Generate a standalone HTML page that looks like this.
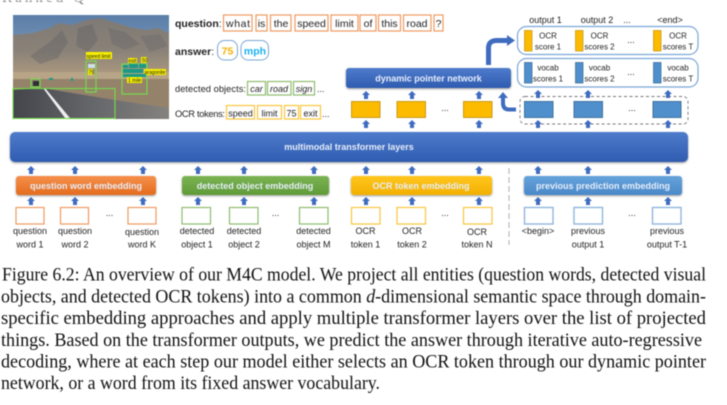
<!DOCTYPE html>
<html><head><meta charset="utf-8">
<style>
html,body{margin:0;padding:0;background:#fff;width:727px;height:405px;overflow:hidden}
svg{display:block;filter:blur(.4px)}
text{font-family:"Liberation Sans",sans-serif;fill:#222}
.t{font-size:9px;text-anchor:middle}
.w{font-size:9px;font-weight:bold;fill:#e6eefa;text-anchor:middle}
.q{font-size:10.5px;text-anchor:middle}
.i{font-size:9px;text-anchor:middle;font-style:italic}
.c{font-family:"Liberation Serif",serif;font-size:18.5px;fill:#111}
.qb{fill:#fff;stroke:#f0995f;stroke-width:1.2}
.ob{fill:#fff;stroke:#8fbc6e;stroke-width:1.2}
.yb{fill:#fff;stroke:#f8c63c;stroke-width:1.2}
.bb{fill:#fff;stroke:#8fb6dc;stroke-width:1.4}
</style></head><body>
<svg width="727" height="405" viewBox="0 0 727 405" xmlns="http://www.w3.org/2000/svg">
<defs>
<polygon id="a" points="0,4 4,0 8,4 6,4 6,8 2,8 2,4" fill="#3f6cbf"/>
<linearGradient id="gb" x1="0" y1="0" x2="0" y2="1"><stop offset="0" stop-color="#4f7bcc"/><stop offset="1" stop-color="#2f5cb0"/></linearGradient>
<linearGradient id="go" x1="0" y1="0" x2="0" y2="1"><stop offset="0" stop-color="#f5904c"/><stop offset="1" stop-color="#e46c1e"/></linearGradient>
<linearGradient id="gg" x1="0" y1="0" x2="0" y2="1"><stop offset="0" stop-color="#7cb354"/><stop offset="1" stop-color="#5f9b38"/></linearGradient>
<linearGradient id="gy" x1="0" y1="0" x2="0" y2="1"><stop offset="0" stop-color="#ffc61e"/><stop offset="1" stop-color="#f3b000"/></linearGradient>
<linearGradient id="gl" x1="0" y1="0" x2="0" y2="1"><stop offset="0" stop-color="#66a3dc"/><stop offset="1" stop-color="#4a88c8"/></linearGradient>
<linearGradient id="sky" x1="0" y1="0" x2="0" y2="1"><stop offset="0" stop-color="#5a7ea8"/><stop offset="1" stop-color="#b4c2d0"/></linearGradient>
<linearGradient id="mt" x1="0" y1="0" x2="0" y2="1"><stop offset="0" stop-color="#7f7a76"/><stop offset=".55" stop-color="#8a8278"/><stop offset="1" stop-color="#b09c80"/></linearGradient>
<linearGradient id="rd" x1="0" y1="0" x2="1" y2="0"><stop offset="0" stop-color="#44454b"/><stop offset=".5" stop-color="#65666a"/><stop offset="1" stop-color="#85827e"/></linearGradient>
<filter id="sh" x="-5%" y="-20%" width="110%" height="150%"><feDropShadow dx="0" dy="1" stdDeviation="1" flood-color="#000" flood-opacity=".4"/></filter>
</defs>

<text x="2" y="2" font-size="15" style="fill:#888;font-family:'Liberation Serif',serif" textLength="82">Ranked Q</text>

<!-- photo -->
<rect x="13" y="15" width="156" height="104" fill="url(#sky)"/>
<polygon points="13,35 33,33 50,28 58,23 72,25 87,20 100,18 113,22 123,25 133,28 147,30 157,28 169,33 169,78 13,78" fill="url(#mt)"/>
<polygon points="30,56 50,42 62,30 68,42 58,58 40,64" fill="#5c5c62" opacity=".35"/>
<polygon points="78,28 92,24 98,40 88,52 76,46" fill="#5c5c62" opacity=".35"/>
<polygon points="108,28 125,32 140,44 125,50 112,44" fill="#5c5c62" opacity=".3"/>
<polygon points="140,36 160,34 168,46 150,52" fill="#5f6068" opacity=".3"/>
<rect x="13" y="72" width="156" height="8" fill="#b8a486"/>
<rect x="13" y="79" width="156" height="40" fill="#94836a"/>
<polygon points="13,90 42,88 115,100 169,108 169,119 13,119" fill="url(#rd)"/>
<polygon points="43,88 45,88 70,118 65,118" fill="#eee"/>
<rect x="33" y="81" width="6" height="5" fill="#2a3038"/>
<rect x="49" y="78" width="4" height="2" fill="#1a9a86"/><rect x="71" y="78" width="2" height="3" fill="#1a9a86"/>
<g fill="none" stroke="#74dc4c" stroke-width="1.1">
<rect x="13" y="88.5" width="102" height="30"/>
<rect x="31" y="79" width="9" height="8"/>
<rect x="86" y="61" width="10" height="31"/>
<rect x="122" y="64" width="25" height="30"/>
</g>
<g fill="#f7ef00">
<rect x="86" y="52" width="26" height="7"/><rect x="128" y="58" width="9" height="5"/><rect x="141" y="57" width="6" height="6"/>
<rect x="144" y="69" width="22" height="6"/><rect x="127" y="77" width="15" height="6"/><rect x="88" y="69" width="5" height="6"/>
</g>
<g fill="#1a9a86">
<rect x="123" y="65" width="5" height="3"/><rect x="129" y="64" width="9" height="4"/><rect x="139" y="64" width="7" height="4"/>
<rect x="123" y="69" width="20" height="4"/><rect x="123" y="74" width="23" height="3"/>
</g>
<rect x="88" y="64" width="7" height="4" fill="#cfe0ea"/>
<g font-size="5" font-family="Liberation Serif" fill="#222">
<text x="86.5" y="58">speed limit</text><text x="128.5" y="62.5">exit</text><text x="142" y="62">50</text>
<text x="144.5" y="74">aragonite</text><text x="128" y="82">1 mile</text><text x="88.5" y="74">75</text>
</g>

<!-- question -->
<text x="175" y="27" font-size="10.5" font-weight="bold">question<tspan font-weight="normal">:</tspan></text>
<rect class="qb" x="223.5" y="15" width="28.5" height="16"/><text class="q" x="238" y="27" textLength="24">what</text>
<rect class="qb" x="256" y="15" width="11" height="16"/><text class="q" x="261.5" y="27">is</text>
<rect class="qb" x="270.5" y="15" width="20.5" height="16"/><text class="q" x="281" y="27">the</text>
<rect class="qb" x="295" y="15" width="33" height="16"/><text class="q" x="311.5" y="27">speed</text>
<rect class="qb" x="331" y="15" width="27" height="16"/><text class="q" x="344.5" y="27">limit</text>
<rect class="qb" x="360" y="15" width="16" height="16"/><text class="q" x="368" y="27">of</text>
<rect class="qb" x="378.5" y="15" width="22" height="16"/><text class="q" x="389.5" y="27">this</text>
<rect class="qb" x="403.5" y="15" width="27.5" height="16"/><text class="q" x="417" y="27">road</text>
<rect class="qb" x="434" y="15" width="9" height="16"/><text class="q" x="438.5" y="27">?</text>

<text x="175" y="55" font-size="10.5" font-weight="bold">answer<tspan font-weight="normal">:</tspan></text>
<rect x="217.5" y="40.5" width="20" height="19.5" rx="7" fill="#fff" stroke="#7aa6d6"/><text x="227.5" y="54.5" font-size="10.5" font-weight="bold" text-anchor="middle" style="fill:#f6b000">75</text>
<rect x="241" y="40.5" width="27.5" height="19.5" rx="7" fill="#fff" stroke="#7aa6d6"/><text x="255" y="54.5" font-size="10.5" font-weight="bold" text-anchor="middle" style="fill:#19b0ef">mph</text>

<text x="175" y="92" font-size="9.3" textLength="71">detected objects:</text>
<rect class="ob" x="247.5" y="81.5" width="18" height="13.5"/><text class="i" x="256.5" y="92">car</text>
<rect class="ob" x="267.5" y="81.5" width="23.5" height="13.5"/><text class="i" x="279" y="92">road</text>
<rect class="ob" x="293.5" y="81.5" width="21" height="13.5"/><text class="i" x="304" y="92">sign</text>
<text x="317" y="92" font-size="9">...</text>

<text x="175" y="117" font-size="9.3" textLength="50">OCR tokens:</text>
<rect class="yb" x="226.5" y="105.5" width="28" height="13.5"/><text class="t" x="240.5" y="116.5">speed</text>
<rect class="yb" x="257.5" y="105.5" width="24" height="13.5"/><text class="t" x="269.5" y="116.5">limit</text>
<rect class="yb" x="284.5" y="105.5" width="14" height="13.5"/><text class="t" x="291.5" y="116.5">75</text>
<rect class="yb" x="300.5" y="105.5" width="20" height="13.5"/><text class="t" x="310.5" y="116.5">exit</text>
<text x="322" y="117" font-size="9">...</text>

<!-- output column labels -->
<text class="t" x="545.5" y="23">output 1</text><text class="t" x="597" y="23">output 2</text><text class="t" x="627" y="23">...</text><text class="t" x="670" y="23">&lt;end&gt;</text>

<rect x="517.5" y="26.5" width="180.5" height="28" rx="9" fill="#fff" stroke="#7aa6d6" stroke-width="1.2"/>
<rect x="517.5" y="58.5" width="180.5" height="28.5" rx="9" fill="#fff" stroke="#7aa6d6" stroke-width="1.2"/>
<g fill="#fdbb00" stroke="#c99a1a" stroke-width=".8">
<rect x="524.5" y="30.5" width="7.5" height="20.5"/><rect x="575.5" y="30.5" width="7.5" height="20.5"/><rect x="653.5" y="30.5" width="7.5" height="20.5"/>
</g>
<g fill="#4f8fcc" stroke="#41719c" stroke-width=".8">
<rect x="524.5" y="62.5" width="7.5" height="20.5"/><rect x="575.5" y="62.5" width="7.5" height="20.5"/><rect x="653.5" y="62.5" width="7.5" height="20.5"/>
</g>
<g>
<text x="548" y="38.5" text-anchor="middle" font-size="8">OCR</text><text x="548" y="49.5" text-anchor="middle" font-size="8">score 1</text>
<text x="599.5" y="38.5" text-anchor="middle" font-size="8">OCR</text><text x="599.5" y="49.5" text-anchor="middle" font-size="8">scores 2</text>
<text x="678" y="38.5" text-anchor="middle" font-size="8">OCR</text><text x="678" y="49.5" text-anchor="middle" font-size="8">scores T</text>
<text x="548" y="70.5" text-anchor="middle" font-size="8">vocab</text><text x="548" y="81.5" text-anchor="middle" font-size="8">scores 1</text>
<text x="599.5" y="70.5" text-anchor="middle" font-size="8">vocab</text><text x="599.5" y="81.5" text-anchor="middle" font-size="8">scores 2</text>
<text x="678" y="70.5" text-anchor="middle" font-size="8">vocab</text><text x="678" y="81.5" text-anchor="middle" font-size="8">scores T</text>
</g>
<text class="t" x="631" y="43">...</text><text class="t" x="631" y="75">...</text>

<!-- curved arrows -->
<path d="M488.5 65 V48 Q488.5 40.5 497 40.5 H508" fill="none" stroke="#3f6cbf" stroke-width="5"/>
<polygon points="507,35 515,40.5 507,46" fill="#3f6cbf"/>
<path d="M516 109.5 H509 Q503 109.5 503 103 V97" fill="none" stroke="#3f6cbf" stroke-width="4"/>
<polygon points="498,98 503,92 508,98" fill="#3f6cbf"/>

<!-- pointer network -->
<rect x="346" y="68" width="165" height="20" rx="3" fill="url(#gb)" filter="url(#sh)"/>
<text class="w" x="428.5" y="81.5">dynamic pointer network</text>

<g fill="#fdbb00" stroke="#c99a1a" stroke-width="1">
<rect x="351.5" y="101.5" width="28.5" height="16"/><rect x="397" y="101.5" width="28.5" height="16"/><rect x="463.5" y="101.5" width="28.5" height="16"/>
</g>
<g fill="#4f8fcc" stroke="#41719c" stroke-width="1">
<rect x="524.5" y="101.5" width="28.5" height="16"/><rect x="574" y="101.5" width="28.5" height="16"/><rect x="653" y="101.5" width="28" height="16"/>
</g>
<rect x="520" y="96.5" width="168" height="27.5" rx="5" fill="none" stroke="#777" stroke-width=".9" stroke-dasharray="3 2.5"/>
<text class="t" x="445" y="111">...</text><text class="t" x="632" y="111">...</text>

<!-- multimodal bar -->
<rect x="10" y="132" width="678" height="30" rx="5" fill="url(#gb)" filter="url(#sh)"/>
<text class="w" x="349" y="150">multimodal transformer layers</text>

<!-- embedding bars -->
<rect x="16" y="176" width="140" height="19" rx="3" fill="url(#go)" filter="url(#sh)"/>
<rect x="182" y="176" width="147" height="19" rx="3" fill="url(#gg)" filter="url(#sh)"/>
<rect x="351" y="176" width="141" height="19" rx="3" fill="url(#gy)" filter="url(#sh)"/>
<rect x="524" y="176" width="158" height="19" rx="3" fill="url(#gl)" filter="url(#sh)"/>
<text class="w" x="86" y="189">question word embedding</text>
<text class="w" x="255" y="189">detected object embedding</text>
<text class="w" x="421" y="189">OCR token embedding</text>
<text class="w" x="603" y="189">previous prediction embedding</text>

<line x1="509" y1="168" x2="509" y2="245" stroke="#bbb" stroke-width="1.2" stroke-dasharray="6 3"/>

<!-- arrows -->
<use href="#a" x="27" y="166"/><use href="#a" x="71" y="166"/><use href="#a" x="139" y="166"/>
<use href="#a" x="194" y="166"/><use href="#a" x="240" y="166"/><use href="#a" x="310" y="166"/>
<use href="#a" x="362" y="166"/><use href="#a" x="408" y="166"/><use href="#a" x="475" y="166"/>
<use href="#a" x="534" y="166"/><use href="#a" x="584" y="166"/><use href="#a" x="664" y="166"/>
<use href="#a" x="27" y="197"/><use href="#a" x="71" y="197"/><use href="#a" x="139" y="197"/>
<use href="#a" x="194" y="197"/><use href="#a" x="240" y="197"/><use href="#a" x="310" y="197"/>
<use href="#a" x="362" y="197"/><use href="#a" x="408" y="197"/><use href="#a" x="475" y="197"/>
<use href="#a" x="534" y="197"/><use href="#a" x="584" y="197"/><use href="#a" x="664" y="197"/>
<use href="#a" x="362" y="91"/><use href="#a" x="408" y="91"/><use href="#a" x="475" y="91"/>
<use href="#a" x="534" y="90"/><use href="#a" x="584" y="90"/><use href="#a" x="664" y="90"/>
<use href="#a" x="362" y="120"/><use href="#a" x="408" y="120"/><use href="#a" x="475" y="120"/>
<use href="#a" x="534" y="120"/><use href="#a" x="584" y="120"/><use href="#a" x="664" y="120"/>

<!-- input boxes -->
<rect class="qb" x="16" y="207.5" width="28" height="16.5"/><rect class="qb" x="60.5" y="207.5" width="28" height="16.5"/><rect class="qb" x="128" y="207.5" width="28" height="16.5"/>
<rect class="ob" x="182" y="207.5" width="28.5" height="16.5"/><rect class="ob" x="229.5" y="207.5" width="28.5" height="16.5"/><rect class="ob" x="299.5" y="207.5" width="28.5" height="16.5"/>
<rect class="yb" x="351.5" y="207.5" width="28.5" height="16.5"/><rect class="yb" x="397" y="207.5" width="28.5" height="16.5"/><rect class="yb" x="463.5" y="207.5" width="28.5" height="16.5"/>
<rect class="bb" x="524.5" y="207.5" width="28.5" height="16.5"/><rect class="bb" x="574" y="207.5" width="28.5" height="16.5"/><rect class="bb" x="652.5" y="207.5" width="28.5" height="16.5"/>
<text class="t" x="109.5" y="216">...</text><text class="t" x="275.5" y="216">...</text><text class="t" x="445" y="216">...</text><text class="t" x="632" y="216">...</text>

<!-- input labels -->
<g>
<text class="t" x="30" y="234">question</text><text class="t" x="30" y="247.5">word 1</text>
<text class="t" x="75" y="234">question</text><text class="t" x="75" y="247.5">word 2</text>
<text class="t" x="142" y="235">question</text><text class="t" x="142" y="247.5">word K</text>
<text class="t" x="197" y="234">detected</text><text class="t" x="197" y="247.5">object 1</text>
<text class="t" x="244" y="234">detected</text><text class="t" x="244" y="247.5">object 2</text>
<text class="t" x="313.5" y="234">detected</text><text class="t" x="313.5" y="247.5">object M</text>
<text class="t" x="365.5" y="234">OCR</text><text class="t" x="365.5" y="247.5">token 1</text>
<text class="t" x="412" y="234">OCR</text><text class="t" x="412" y="247.5">token 2</text>
<text class="t" x="477" y="235">OCR</text><text class="t" x="477" y="247.5">token N</text>
<text class="t" x="538" y="234">&lt;begin&gt;</text>
<text class="t" x="588" y="234">previous</text><text class="t" x="588" y="247.5">output 1</text>
<text class="t" x="667" y="234">previous</text><text class="t" x="667" y="247.5">output T-1</text>
</g>

<!-- caption -->
<text class="c" x="2" y="280.5" textLength="704" lengthAdjust="spacingAndGlyphs">Figure 6.2: An overview of our M4C model. We project all entities (question words, detected visual</text>
<text class="c" x="1" y="302.5" textLength="705" lengthAdjust="spacingAndGlyphs">objects, and detected OCR tokens) into a common <tspan font-style="italic">d</tspan>-dimensional semantic space through domain-</text>
<text class="c" x="1" y="324" textLength="705" lengthAdjust="spacingAndGlyphs">specific embedding approaches and apply multiple transformer layers over the list of projected</text>
<text class="c" x="1" y="346" textLength="701" lengthAdjust="spacingAndGlyphs">things. Based on the transformer outputs, we predict the answer through iterative auto-regressive</text>
<text class="c" x="1" y="367.5" textLength="705" lengthAdjust="spacingAndGlyphs">decoding, where at each step our model either selects an OCR token through our dynamic pointer</text>
<text class="c" x="1" y="389" textLength="379" lengthAdjust="spacingAndGlyphs">network, or a word from its fixed answer vocabulary.</text>
</svg>
</body></html>
